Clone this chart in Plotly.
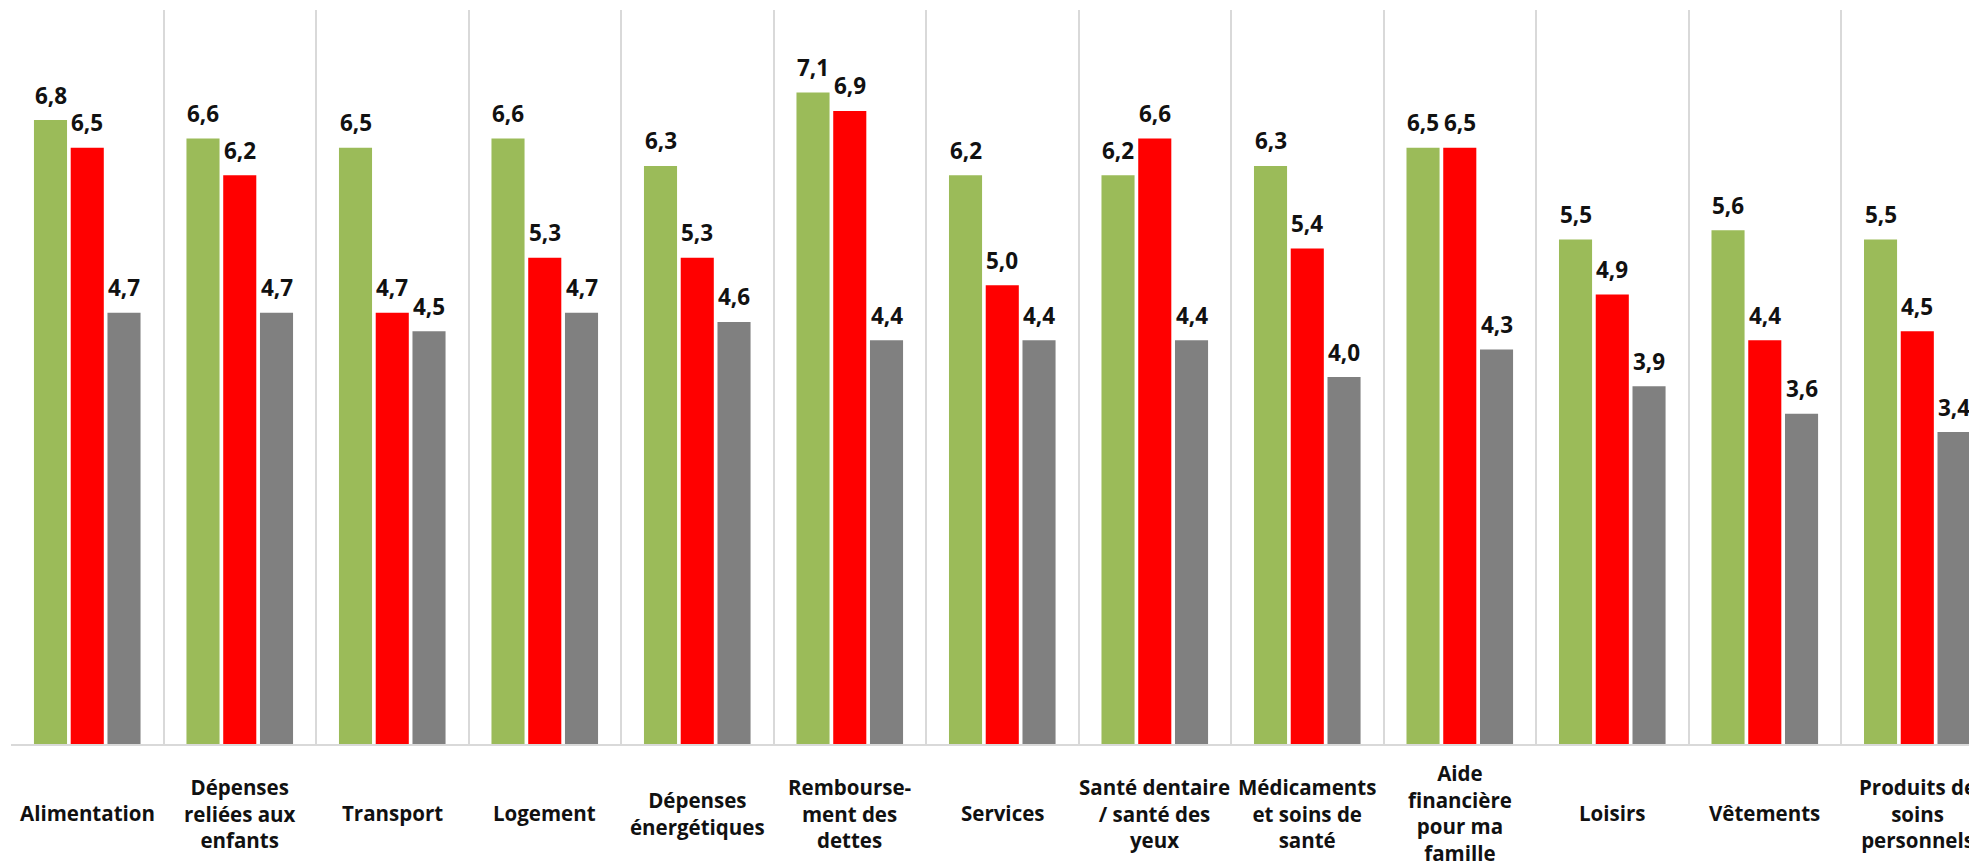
import plotly.graph_objects as go

# DATA
categories = [
    "Alimentation",
    "Dépenses<br>reliées aux<br>enfants",
    "Transport",
    "Logement",
    "Dépenses<br>énergétiques",
    "Rembourse-<br>ment des<br>dettes",
    "Services",
    "Santé dentaire<br>/ santé des<br>yeux",
    "Médicaments<br>et soins de<br>santé",
    "Aide<br>financière<br>pour ma<br>famille",
    "Loisirs",
    "Vêtements",
    "Produits de<br>soins<br>personnels",
]
green_vals = [6.8, 6.6, 6.5, 6.6, 6.3, 7.1, 6.2, 6.2, 6.3, 6.5, 5.5, 5.6, 5.5]
red_vals = [6.5, 6.2, 4.7, 5.3, 5.3, 6.9, 5.0, 6.6, 5.4, 6.5, 4.9, 4.4, 4.5]
gray_vals = [4.7, 4.7, 4.5, 4.7, 4.6, 4.4, 4.4, 4.4, 4.0, 4.3, 3.9, 3.6, 3.4]

series = [("green", green_vals, "#9BBB59"), ("red", red_vals, "#FF0000"), ("gray", gray_vals, "#808080")]

FONT = "Open Sans, Lato, sans-serif"
BARGAP = 0.277

# PLOT
fig = go.Figure()
for name, vals, col in series:
    fig.add_trace(go.Bar(x=categories, y=vals, name=name, marker=dict(color=col, line=dict(width=0))))

# value labels above each bar
slot = (1 - BARGAP) / 3
annotations = []
for j, (name, vals, col) in enumerate(series):
    for i, v in enumerate(vals):
        annotations.append(dict(
            x=i + (j - 1) * slot, y=v, xref="x", yref="y",
            text=f"{v:.1f}".replace(".", ","), showarrow=False,
            yanchor="middle", yshift=25,
            font=dict(family=FONT, size=22.5, color="#111111", weight="bold"),
        ))

# category labels, vertically centred under the axis
for i, c in enumerate(categories):
    annotations.append(dict(
        x=i, y=0, xref="x", yref="paper", text=c, showarrow=False,
        yanchor="middle", yshift=-69,
        font=dict(family=FONT, size=20.5, color="#111111", weight="bold"),
    ))

# FORMAT
fig.update_layout(
    width=1977, height=864,
    margin=dict(l=3, r=0, t=2, b=128),
    paper_bgcolor="white", plot_bgcolor="white",
    barmode="group", bargap=BARGAP, bargroupgap=0.1,
    showlegend=False,
    annotations=annotations,
)
fig.update_xaxes(
    type="category", range=[-0.5, 12.444], tickson="boundaries",
    showticklabels=False, ticks="", showgrid=True, gridcolor="#d9d9d9", gridwidth=2,
    showline=True, linecolor="#d9d9d9", linewidth=2, zeroline=False,
)
fig.update_yaxes(range=[0, 8], showgrid=False, showticklabels=False, zeroline=False, showline=False)

fig.write_html("out.html")
